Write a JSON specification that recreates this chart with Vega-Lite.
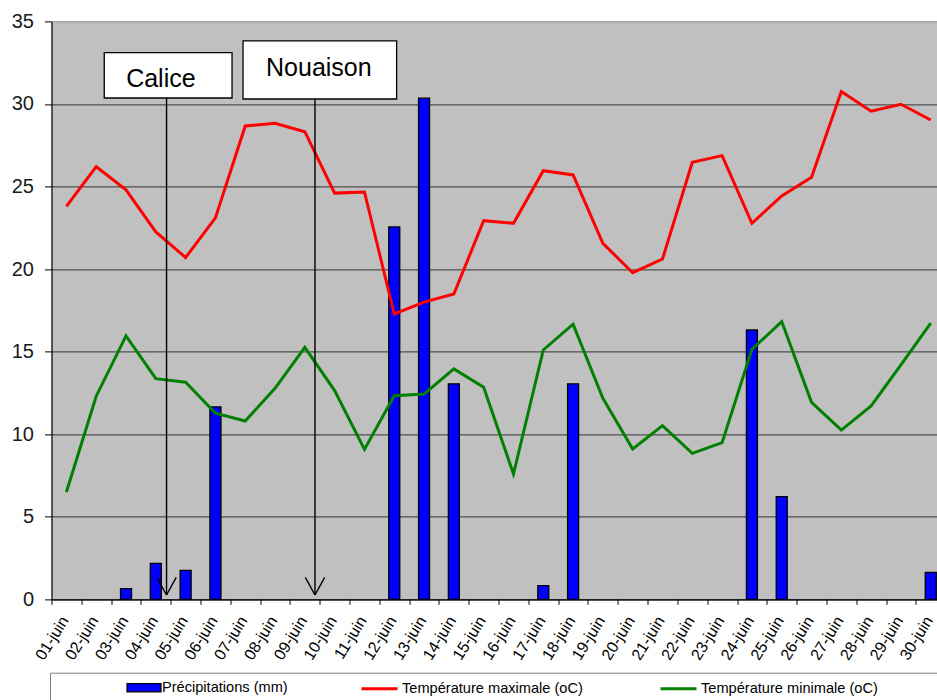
{
  "$schema": "https://vega.github.io/schema/vega-lite/v6.json",
  "autosize": "none",
  "width": 885.5,
  "height": 577.9,
  "padding": {"left": 51.5, "top": 21.4, "right": 0, "bottom": 100.7},
  "background": "white",
  "config": {
    "view": {"fill": "#c0c0c0", "stroke": null},
    "font": "Liberation Sans",
    "axisX": {
      "labelFont": "Liberation Sans", "labelFontSize": 16, "labelColor": "black",
      "labelAngle": -58, "labelAlign": "right", "labelBaseline": "middle", "labelPadding": 13,
      "labelOverlap": false, "labelFlush": false, "labelBound": false,
      "tickSize": 5, "tickColor": "black", "domainColor": "black", "domainWidth": 1.2,
      "grid": false, "title": null
    },
    "axisY": {
      "labelFont": "Liberation Sans", "labelFontSize": 20, "labelColor": "#1a1a1a", "labelPadding": 11,
      "tickSize": 7, "tickColor": "black", "domainColor": "black", "domainWidth": 1.2,
      "gridWidth": 1.4, "title": null
    }
  },
  "datasets": {
    "meteo": [
      {"day": 1, "tmax": 23.8, "tmin": 6.5, "precip": 0},
      {"day": 2, "tmax": 26.2, "tmin": 12.3, "precip": 0},
      {"day": 3, "tmax": 24.8, "tmin": 15.95, "precip": 0.65},
      {"day": 4, "tmax": 22.25, "tmin": 13.36, "precip": 2.18},
      {"day": 5, "tmax": 20.7, "tmin": 13.15, "precip": 1.75},
      {"day": 6, "tmax": 23.1, "tmin": 11.27, "precip": 11.65},
      {"day": 7, "tmax": 28.67, "tmin": 10.8, "precip": 0},
      {"day": 8, "tmax": 28.83, "tmin": 12.78, "precip": 0},
      {"day": 9, "tmax": 28.32, "tmin": 15.26, "precip": 0},
      {"day": 10, "tmax": 24.6, "tmin": 12.64, "precip": 0},
      {"day": 11, "tmax": 24.67, "tmin": 9.08, "precip": 0},
      {"day": 12, "tmax": 17.28, "tmin": 12.33, "precip": 22.55},
      {"day": 13, "tmax": 18.0, "tmin": 12.43, "precip": 30.35},
      {"day": 14, "tmax": 18.49, "tmin": 13.95, "precip": 13.05},
      {"day": 15, "tmax": 22.93, "tmin": 12.84, "precip": 0},
      {"day": 16, "tmax": 22.77, "tmin": 7.59, "precip": 0},
      {"day": 17, "tmax": 25.96, "tmin": 15.1, "precip": 0.83},
      {"day": 18, "tmax": 25.7, "tmin": 16.66, "precip": 13.05},
      {"day": 19, "tmax": 21.56, "tmin": 12.17, "precip": 0},
      {"day": 20, "tmax": 19.78, "tmin": 9.1, "precip": 0},
      {"day": 21, "tmax": 20.61, "tmin": 10.52, "precip": 0},
      {"day": 22, "tmax": 26.47, "tmin": 8.84, "precip": 0},
      {"day": 23, "tmax": 26.87, "tmin": 9.49, "precip": 0},
      {"day": 24, "tmax": 22.77, "tmin": 15.14, "precip": 16.31},
      {"day": 25, "tmax": 24.43, "tmin": 16.82, "precip": 6.22},
      {"day": 26, "tmax": 25.56, "tmin": 11.93, "precip": 0},
      {"day": 27, "tmax": 30.75, "tmin": 10.25, "precip": 0},
      {"day": 28, "tmax": 29.56, "tmin": 11.71, "precip": 0},
      {"day": 29, "tmax": 29.98, "tmin": 14.2, "precip": 0},
      {"day": 30, "tmax": 29.03, "tmin": 16.72, "precip": 1.63}
    ],
    "stages": [
      {"name": "Calice", "x": 4.36, "hl": 4.035, "hr": 4.685, "htop": 1.33, "tx": 4.17, "ty": 31.01, "bx1": 2.27, "bx2": 6.557, "by1": 30.36, "by2": 33.11, "tipY": 0.26},
      {"name": "Nouaison", "x": 9.34, "hl": 9.015, "hr": 9.665, "htop": 1.33, "tx": 9.47, "ty": 31.71, "bx1": 6.926, "bx2": 12.08, "by1": 30.30, "by2": 33.82, "tipY": 0.26}
    ]
  },
  "layer": [
    {
      "data": {"name": "meteo"},
      "transform": [{"filter": "datum.precip > 0"}],
      "mark": {"type": "bar", "orient": "vertical", "size": 11, "stroke": "black", "strokeWidth": 1.3},
      "encoding": {
        "x": {
          "field": "day", "type": "quantitative",
          "scale": {"domain": [0.5, 30.21], "nice": false, "zero": false, "padding": 0},
          "axis": {
            "values": [1,2,3,4,5,6,7,8,9,10,11,12,13,14,15,16,17,18,19,20,21,22,23,24,25,26,27,28,29,30],
            "tickCount": 30,
            "labelExpr": "(datum.value < 10 ? '0' : '') + datum.value + '-juin'",
            "tickOffset": -14.9, "labelOffset": 13,
            "labelOverlap": false, "labelFlush": false, "labelBound": false,
            "labelAngle": -58, "labelAlign": "right", "labelBaseline": "middle", "labelFontSize": 16, "labelPadding": 13
          }
        },
        "y": {
          "field": "precip", "type": "quantitative",
          "scale": {"domain": [0, 35], "nice": false},
          "axis": {
            "values": [0, 5, 10, 15, 20, 25, 30, 35],
            "grid": true,
            "gridColor": {"condition": {"test": "datum.value == 35", "value": "#9a9a9a"}, "value": "#4f4f4f"}
          }
        },
        "fill": {
          "datum": "Précipitations (mm)",
          "scale": {"domain": ["Précipitations (mm)"], "range": ["#0000ff"]},
          "legend": {
            "orient": "none", "legendX": 69.5, "legendY": 651.3, "direction": "horizontal",
            "title": null, "padding": 5,
            "symbolType": "M-1,-0.46L2.78,-0.46L2.78,0.46L-1,0.46Z", "symbolSize": 324,
            "symbolStrokeColor": "black", "symbolStrokeWidth": 1.2, "symbolOpacity": 1,
            "labelFont": "Liberation Sans", "labelFontSize": 14.6, "labelColor": "black", "labelOffset": 16,
            "labelLimit": 400
          }
        }
      }
    },
    {
      "data": {"name": "meteo"},
      "mark": {"type": "line", "strokeWidth": 3},
      "encoding": {
        "x": {"field": "day", "type": "quantitative"},
        "y": {"field": "tmax", "type": "quantitative"},
        "stroke": {
          "datum": "Température maximale (oC)",
          "scale": {
            "domain": ["Température maximale (oC)", "Température minimale (oC)", "\u00a0"],
            "range": ["#ff0000", "#008000", "transparent"]
          },
          "legend": {
            "orient": "none", "legendX": -1.5, "legendY": 651.3, "direction": "horizontal",
            "title": "\u00a0", "titleOrient": "left", "titlePadding": 305, "titleFontSize": 12,
            "padding": 5, "strokeColor": "#808080",
            "symbolType": "M-1,0L3,0", "symbolSize": 324, "symbolStrokeWidth": 3, "symbolOpacity": 1,
            "labelFont": "Liberation Sans", "labelFontSize": 14.6, "labelColor": "black", "labelOffset": 21,
            "labelLimit": 400,
            "columnPadding": 71
          }
        }
      }
    },
    {
      "data": {"name": "meteo"},
      "mark": {"type": "line", "strokeWidth": 3},
      "encoding": {
        "x": {"field": "day", "type": "quantitative"},
        "y": {"field": "tmin", "type": "quantitative"},
        "stroke": {"datum": "Température minimale (oC)"}
      }
    },
    {
      "data": {"name": "stages"},
      "mark": {"type": "rect", "fill": "white", "stroke": "black", "strokeWidth": 1.3},
      "encoding": {
        "x": {"field": "bx1", "type": "quantitative"},
        "x2": {"field": "bx2"},
        "y": {"field": "by1", "type": "quantitative"},
        "y2": {"field": "by2"}
      }
    },
    {
      "data": {"name": "stages"},
      "mark": {"type": "rule", "color": "black", "strokeWidth": 1.4},
      "encoding": {
        "x": {"field": "x", "type": "quantitative"},
        "y": {"field": "by1", "type": "quantitative"},
        "y2": {"field": "tipY"}
      }
    },
    {
      "data": {"name": "stages"},
      "mark": {"type": "rule", "color": "black", "strokeWidth": 1.4},
      "encoding": {
        "x": {"field": "hl", "type": "quantitative"},
        "x2": {"field": "x"},
        "y": {"field": "htop", "type": "quantitative"},
        "y2": {"field": "tipY"}
      }
    },
    {
      "data": {"name": "stages"},
      "mark": {"type": "rule", "color": "black", "strokeWidth": 1.4},
      "encoding": {
        "x": {"field": "hr", "type": "quantitative"},
        "x2": {"field": "x"},
        "y": {"field": "htop", "type": "quantitative"},
        "y2": {"field": "tipY"}
      }
    },
    {
      "data": {"name": "stages"},
      "mark": {"type": "text", "font": "Liberation Sans", "fontSize": 25, "color": "black", "align": "center", "baseline": "alphabetic"},
      "encoding": {
        "x": {"field": "tx", "type": "quantitative"},
        "y": {"field": "ty", "type": "quantitative"},
        "text": {"field": "name"}
      }
    }
  ]
}
